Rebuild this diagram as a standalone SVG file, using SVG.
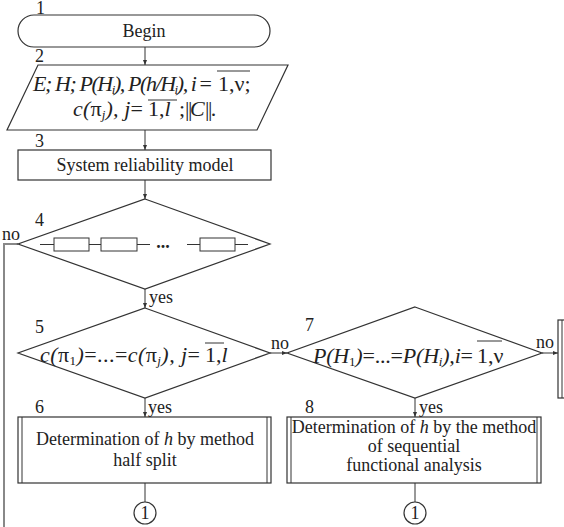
<svg xmlns="http://www.w3.org/2000/svg" width="564" height="527" viewBox="0 0 564 527" font-family="'Liberation Serif', 'Times New Roman', serif">
<style>
.sh{fill:#fff;stroke:#333;stroke-width:1.2}
.ln{fill:none;stroke:#333;stroke-width:1}
.t{font-family:'Liberation Serif','Times New Roman',serif;font-size:18px;fill:#222}
.m{font-family:'Liberation Serif','Times New Roman',serif;font-size:22px;font-style:italic;fill:#222}
.up{font-style:normal}
.s{font-size:13px}
.bar{font-style:normal;letter-spacing:-1.5px}
</style>
<defs>
<marker id="ah" markerWidth="6" markerHeight="6" refX="5" refY="3" orient="auto" markerUnits="userSpaceOnUse"><path d="M0,1 L5,3 L0,5 z" fill="#333"/></marker>
</defs>
<rect width="564" height="527" fill="#fff"/>
<g id="connectors">
<line class="ln" x1="145" y1="47" x2="145" y2="65" marker-end="url(#ah)"/>
<line class="ln" x1="145" y1="130" x2="145" y2="150" marker-end="url(#ah)"/>
<line class="ln" x1="145" y1="180" x2="145" y2="199" marker-end="url(#ah)"/>
<line class="ln" x1="145" y1="289" x2="145" y2="308" marker-end="url(#ah)"/>
<line class="ln" x1="145" y1="398" x2="145" y2="417" marker-end="url(#ah)"/>
<line class="ln" x1="415" y1="398" x2="415" y2="417" marker-end="url(#ah)"/>
<line class="ln" x1="270" y1="353" x2="287" y2="353" marker-end="url(#ah)"/>
<line class="ln" x1="542" y1="353" x2="558" y2="353" marker-end="url(#ah)"/>
<line class="ln" x1="145" y1="483" x2="145" y2="502"/>
<line class="ln" x1="415" y1="483" x2="415" y2="502"/>
<polyline points="18,244 4,244 4,527" fill="none" stroke="#888" stroke-width="2"/>
<text class="t" x="2" y="240">no</text>
<text class="t" x="149" y="303">yes</text>
<text class="t" x="271" y="349">no</text>
<text class="t" x="148" y="413">yes</text>
<text class="t" x="419" y="413">yes</text>
<text class="t" x="536" y="348">no</text>
</g>
<g id="n1">
<rect class="sh" x="18" y="15" width="252" height="32" rx="16"/>
<text class="t" x="144" y="37" text-anchor="middle">Begin</text>
<text class="t" x="36" y="14" font-size="17">1</text>
</g>
<g id="n2">
<polygon class="sh" points="38,65 288,65 257,130 7,130"/>
<text class="t" x="35" y="62">2</text>
<text class="m" x="33" y="91" textLength="179" lengthAdjust="spacing">E; H; P(H<tspan class="s" dy="3">i</tspan><tspan dy="-3">), P(h/H</tspan><tspan class="s" dy="3">i</tspan><tspan dy="-3">), i </tspan><tspan class="up">=</tspan></text>
<text class="m" x="218" y="91"><tspan class="up">1,ν;</tspan></text>
<line class="ln" x1="217" y1="71" x2="250" y2="71"/>
<text class="m" x="73" y="116" textLength="70" lengthAdjust="spacing">c(<tspan class="up">π</tspan><tspan class="s" dy="3">j</tspan><tspan dy="-3">), j</tspan><tspan class="up">=</tspan></text>
<text class="m" x="148" y="116"><tspan class="up">1,</tspan>l</text>
<text class="m" x="179" y="116"><tspan class="up">;</tspan></text>
<text class="m bar" x="185" y="116">||</text>
<text class="m" x="190" y="116">C</text>
<text class="m bar" x="205" y="116">||.</text>
<line class="ln" x1="148" y1="100" x2="177" y2="100"/>
</g>
<g id="n3">
<rect class="sh" x="18" y="150" width="253" height="30"/>
<text class="t" x="35" y="147">3</text>
<text class="t" x="145" y="171" text-anchor="middle">System reliability model</text>
</g>
<g id="n4">
<polygon class="sh" points="145,199 270,244 145,289 18,244"/>
<text class="t" x="35" y="226">4</text>
<path class="ln" d="M40,244.5 H54 M89,244.5 H101 M137,244.5 H150 M187,244.5 H200 M235,244.5 H248"/>
<rect class="ln" x="54" y="238" width="35" height="13"/>
<rect class="ln" x="101" y="238" width="36" height="13"/>
<rect class="ln" x="200" y="238" width="35" height="13"/>
<text class="t" x="163" y="248" text-anchor="middle" font-weight="bold">...</text>
</g>
<g id="n5">
<polygon class="sh" points="145,308 270,353 145,398 18,353"/>
<text class="t" x="35" y="333">5</text>
<text class="m" x="40" y="362" textLength="160" lengthAdjust="spacing">c(<tspan class="up">π</tspan><tspan class="s up" dy="3">1</tspan><tspan dy="-3">)</tspan><tspan class="up">=...=</tspan>c(<tspan class="up">π</tspan><tspan class="s" dy="3">j</tspan><tspan dy="-3">), j</tspan><tspan class="up">=</tspan></text>
<text class="m" x="205" y="362"><tspan class="up">1,</tspan>l</text>
<line class="ln" x1="205" y1="343" x2="224" y2="343"/>
</g>
<g id="n6">
<rect class="sh" x="18" y="417" width="253" height="66"/>
<path class="ln" d="M22,417 V483 M267,417 V483"/>
<text class="t" x="35" y="413">6</text>
<text class="t" x="145" y="445" text-anchor="middle">Determination of <tspan font-style="italic">h</tspan> by method</text>
<text class="t" x="145" y="466" text-anchor="middle">half split</text>
</g>
<g id="n7">
<polygon class="sh" points="415,307 542,353 415,398 287,353"/>
<text class="t" x="305" y="331">7</text>
<text class="m" x="313" y="363" textLength="160" lengthAdjust="spacing">P(H<tspan class="s up" dy="3">1</tspan><tspan dy="-3">)</tspan><tspan class="up">=...=</tspan>P(H<tspan class="s" dy="3">i</tspan><tspan dy="-3">),i</tspan><tspan class="up">=</tspan></text>
<text class="m" x="477" y="363"><tspan class="up">1,ν</tspan></text>
<line class="ln" x1="477" y1="341" x2="502" y2="341"/>
</g>
<g id="n8">
<rect class="sh" x="287" y="417" width="254" height="66"/>
<path class="ln" d="M291,417 V483 M537,417 V483"/>
<text class="t" x="305" y="413">8</text>
<text class="t" x="414" y="433" text-anchor="middle">Determination of <tspan font-style="italic">h</tspan> by the method</text>
<text class="t" x="414" y="452" text-anchor="middle">of sequential</text>
<text class="t" x="414" y="471" text-anchor="middle">functional analysis</text>
</g>
<g id="n9">
<rect class="sh" x="558" y="320" width="30" height="78"/>
<line class="ln" x1="562" y1="320" x2="562" y2="398"/>
</g>
<g id="c1">
<circle class="sh" cx="145" cy="513" r="11"/>
<text class="t" x="145" y="519" text-anchor="middle">1</text>
</g>
<g id="c2">
<circle class="sh" cx="415" cy="513" r="11"/>
<text class="t" x="415" y="519" text-anchor="middle">1</text>
</g>
</svg>
